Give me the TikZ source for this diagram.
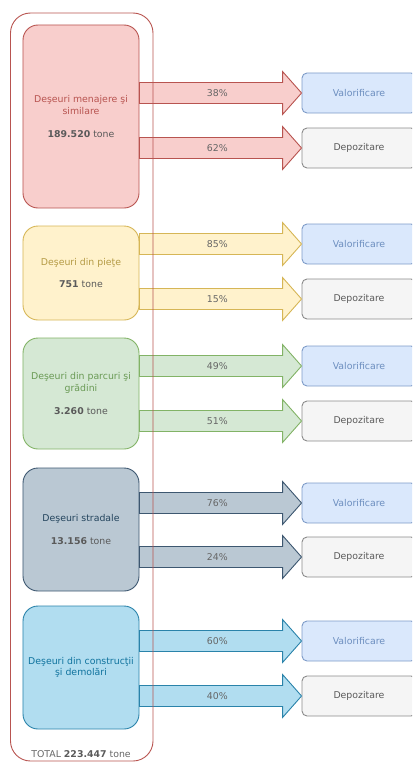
\documentclass[tikz,border=0pt]{standalone}
\usepackage{fontspec}
\setmainfont{DejaVu Sans}
\usetikzlibrary{calc}

\definecolor{redfill}{HTML}{F8CECC}
\definecolor{redline}{HTML}{B85450}
\definecolor{yelfill}{HTML}{FFF2CC}
\definecolor{yelline}{HTML}{D6B656}
\definecolor{yeltext}{HTML}{B59B45}
\definecolor{grnfill}{HTML}{D5E8D4}
\definecolor{grnline}{HTML}{82B366}
\definecolor{grntext}{HTML}{6A9A55}
\definecolor{slafill}{HTML}{BAC8D3}
\definecolor{slaline}{HTML}{3D5770}
\definecolor{slatext}{HTML}{23445D}
\definecolor{blufill}{HTML}{B1DDF0}
\definecolor{bluline}{HTML}{2A83AA}
\definecolor{blutext}{HTML}{10739E}
\definecolor{valfill}{HTML}{DAE8FC}
\definecolor{valline}{HTML}{7D9BC8}
\definecolor{valtext}{HTML}{6C8EBF}
\definecolor{depfill}{HTML}{F5F5F5}
\definecolor{depline}{HTML}{8A8A8A}
\definecolor{pcttext}{HTML}{666666}
\definecolor{numtext}{HTML}{5A5A5A}

\tikzset{
  txt/.style={font=\fontsize{9.4}{11.5}\selectfont, align=center},
  srcbox/.style={txt, draw, line width=0.9bp, rounded corners=15bp, minimum width=116bp, inner sep=0pt},
  destbox/.style={txt, draw, line width=0.9bp, rounded corners=5bp, minimum width=114bp, minimum height=40bp, inner sep=0pt},
  valbox/.style={destbox, fill=valfill, draw=valline, text=valtext},
  depbox/.style={destbox, fill=depfill, draw=depline, text=numtext},
  pct/.style={txt, text=pcttext},
}

% block arrow: #1 colours, #2 source, #3 target, #4 label name, #5 label
\newcommand{\flow}[5]{%
  \coordinate (#4s) at (#2.east |- #3.west);
  \draw[#1, line width=0.9bp] ($(#4s)+(0,-10.5)$) -- ($(#3.west)+(-19,-10.5)$)
    -- ($(#3.west)+(-19,-21.5)$) -- (#3.west) -- ($(#3.west)+(-19,21.5)$)
    -- ($(#3.west)+(-19,10.5)$) -- ($(#4s)+(0,10.5)$) -- cycle;
  \node[pct] (#4) at ($(#4s)!0.48!(#3.west)$) {#5};
}

\begin{document}
\begin{tikzpicture}[x=1bp,y=-1bp]
\clip (0,0) rectangle (412,763);

% sources
\node[srcbox, fill=redfill, draw=redline, text=redline, minimum height=183bp] (menajere) at (81,116.5)
  {Deşeuri menajere şi\\similare\\[11.5pt]{\color{numtext}\textbf{189.520} tone}};
\node[srcbox, fill=yelfill, draw=yelline, text=yeltext, minimum height=94bp] (piete) at (81,273)
  {Deşeuri din pieţe\\[11.5pt]{\color{numtext}\textbf{751} tone}};
\node[srcbox, fill=grnfill, draw=grnline, text=grntext, minimum height=111bp] (parcuri) at (81,393.5)
  {Deşeuri din parcuri şi\\grădini\\[11.5pt]{\color{numtext}\textbf{3.260} tone}};
\node[srcbox, fill=slafill, draw=slaline, text=slatext, minimum height=123bp] (stradale) at (81,529.5)
  {Deşeuri stradale\\[11.5pt]{\color{numtext}\textbf{13.156} tone}};
\node[srcbox, fill=blufill, draw=bluline, text=blutext, minimum height=123bp] (constr) at (81,667.5)
  {Deşeuri din construcţii\\şi demolări};

% destinations
\node[valbox] (val1) at (359,93) {Valorificare};
\node[depbox] (dep1) at (359,148) {Depozitare};
\node[valbox] (val2) at (359,244) {Valorificare};
\node[depbox] (dep2) at (359,299) {Depozitare};
\node[valbox] (val3) at (359,366) {Valorificare};
\node[depbox] (dep3) at (359,421) {Depozitare};
\node[valbox] (val4) at (359,503) {Valorificare};
\node[depbox] (dep4) at (359,557) {Depozitare};
\node[valbox] (val5) at (359,641) {Valorificare};
\node[depbox] (dep5) at (359,696) {Depozitare};

% flows
\flow{fill=redfill, draw=redline}{menajere}{val1}{p1v}{38\%}
\flow{fill=redfill, draw=redline}{menajere}{dep1}{p1d}{62\%}
\flow{fill=yelfill, draw=yelline}{piete}{val2}{p2v}{85\%}
\flow{fill=yelfill, draw=yelline}{piete}{dep2}{p2d}{15\%}
\flow{fill=grnfill, draw=grnline}{parcuri}{val3}{p3v}{49\%}
\flow{fill=grnfill, draw=grnline}{parcuri}{dep3}{p3d}{51\%}
\flow{fill=slafill, draw=slaline}{stradale}{val4}{p4v}{76\%}
\flow{fill=slafill, draw=slaline}{stradale}{dep4}{p4d}{24\%}
\flow{fill=blufill, draw=bluline}{constr}{val5}{p5v}{60\%}
\flow{fill=blufill, draw=bluline}{constr}{dep5}{p5d}{40\%}

% container
\draw[redline, line width=0.9bp, rounded corners=20bp] (10.5,13) rectangle (153,761);
\node[txt, text=pcttext] (total) at (81,754) {TOTAL {\color{numtext}\textbf{223.447}} tone};
\end{tikzpicture}
\end{document}
